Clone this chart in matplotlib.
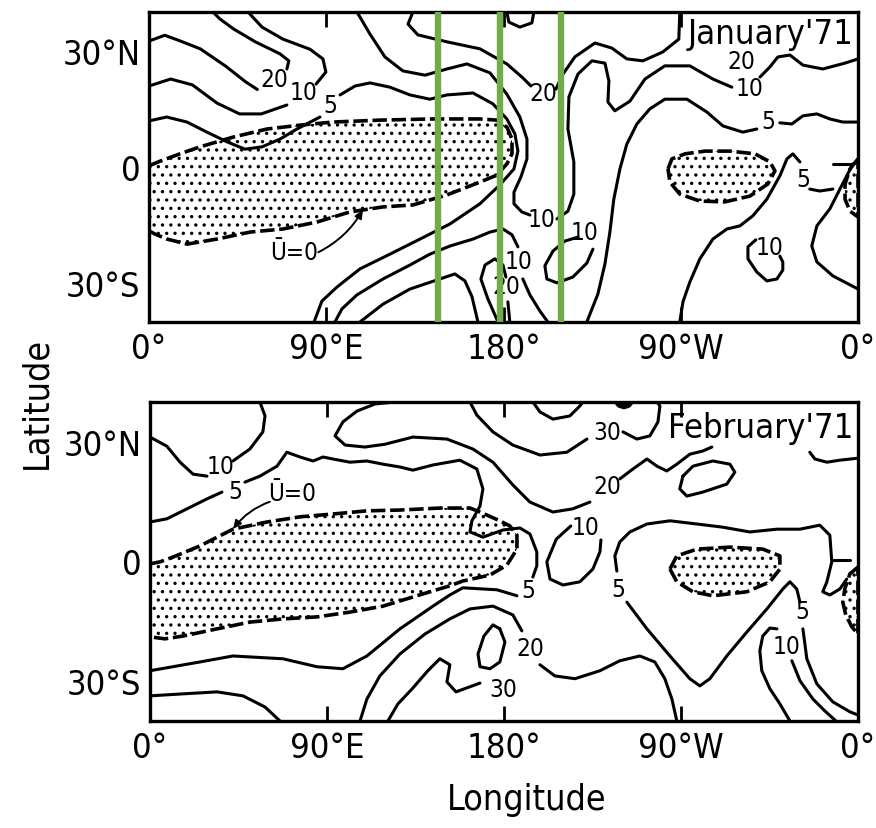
import matplotlib
matplotlib.use('Agg')
import matplotlib.pyplot as plt
from matplotlib import font_manager

_fonts = font_manager.fontManager.ttflist
_names = {f.name for f in _fonts}
_has_dv_cond = any(f.name == 'DejaVu Sans' and str(f.stretch) == 'condensed' for f in _fonts)
if 'Liberation Sans Narrow' in _names:
    FAMILY, STRETCH, SCALE = ['Liberation Sans Narrow', 'DejaVu Sans'], 'normal', 1.0
elif _has_dv_cond:
    FAMILY, STRETCH, SCALE = ['DejaVu Sans', 'Liberation Sans'], 'condensed', 0.92
else:
    FAMILY, STRETCH, SCALE = ['Liberation Sans', 'DejaVu Sans'], 'normal', 0.9
plt.rcParams['font.family'] = FAMILY
plt.rcParams['font.stretch'] = STRETCH
plt.rcParams['hatch.linewidth'] = 1.2
plt.rcParams['hatch.color'] = 'black'

# ---------------- axis ticks ----------------
lon_ticks = [0, 90, 180, 270, 360]
lon_tick_labels = ['0°', '90°E', '180°', '90°W', '0°']
lat_ticks = [30, 0, -30]
lat_tick_labels = ['30°N', '0', '30°S']
highlight_lons = [146.7, 178.2, 209.1]

# ---------------- January '71 ----------------
jan_shade_w_lon = [0, 5.6, 15.7, 25.9, 42.6, 59.9, 76.6, 93.4, 117.3, 144.2, 168.0, 176.6, 181.7, 184.3, 184.3, 181.7,
                   176.6, 168.0, 151.3, 134.0, 118.8, 102.0, 85.3, 68.0, 51.3, 34.5, 19.3, 9.1, 3.0, 0]
jan_shade_w_lat = [0.3, 1.5, 3.4, 5.2, 7.7, 9.8, 10.8, 11.6, 12.1, 12.4, 12.4, 12.1, 10.3, 7.2, 3.4, 0.8,
                   -2.1, -3.9, -7.2, -9.8, -10.3, -11.6, -14.2, -16.0, -16.8, -18.6, -19.9, -18.6, -17.3, -16.5]
jan_shade_e_lon = [263.5, 265.5, 272.2, 282.3, 295.0, 307.7, 315.3, 317.8, 314.2, 305.1, 292.4, 279.7, 269.5, 264.5]
jan_shade_e_lat = [-0.5, 2.1, 3.4, 4.1, 4.1, 3.4, 1.3, -1.0, -4.4, -7.5, -9.0, -8.8, -7.0, -3.9]
jan_shade_edge_lon = [360, 355.9, 353.4, 353.4, 355.9, 360]
jan_shade_edge_lat = [2.1, -0.5, -4.4, -8.3, -11.4, -12.9]

j20_nw_a = ([0, 8, 16, 26, 39, 49, 55], [32.5, 34, 32.5, 30.5, 26, 22, 20])
j20_nw_b = ([70, 71, 66.5, 54, 43, 36, 32.5], [25.3, 27.4, 29.2, 32.3, 35.6, 38.2, 40])
j10_nw_a = ([0, 11, 22, 34.5, 46, 57, 70], [20.9, 22.7, 21.2, 16.5, 13.7, 13.7, 16.0])
j10_nw_b = ([84.8, 89.8, 88.3, 81.7, 68.0, 57.4, 50.3], [21.4, 24.5, 27.9, 30.4, 33.0, 36.1, 40])
j5_w_a = ([0, 9, 19.3, 29.4, 39.6, 48.7, 57.4, 66.5, 75.1, 86.8],
          [11.9, 12.9, 11.6, 9.0, 6.5, 4.6, 5.2, 7.2, 9.8, 12.9])
j5_w_b = ([97.0, 104.6, 112.2, 122.3, 132.5, 142.6, 151.3, 164.5, 174.6, 181.7, 185.8, 187.3, 185.3, 178.2,
           168.0, 152.8, 137.6, 122.3, 107.1, 95.4, 87.8, 83.8],
          [18.6, 20.9, 21.7, 20.6, 18.6, 17.5, 18.6, 19.1, 16.3, 12.4, 8.5, 4.1, -0.5, -4.6,
           -9.5, -14.7, -18.6, -22.5, -26.3, -31.0, -34.6, -40])
j10_c_a = ([105.6, 112.2, 119.8, 128.9, 140.1, 151.3, 161.4, 173.1, 181.7, 188.3, 191.9, 191.9, 188.8, 185.3,
            185.3, 189.3, 193.4],
           [40, 34.3, 28.4, 24.8, 23.7, 25.3, 26.6, 24.3, 18.8, 12.9, 7.2, 2.1, -2.6, -6.5,
            -9.5, -11.6, -12.4])
j10_c_b = ([207.1, 212.7, 215.7, 215.7, 212.7, 213.2, 217.8, 224.9, 231.5, 233.5, 233.0, 236.5, 244.2, 251.8,
            261.9, 274.6, 286.3, 295.9],
           [-13.4, -11.4, -7.0, 1.3, 9.8, 18.1, 24.0, 27.4, 26.8, 22.2, 16.8, 14.5, 17.0, 22.7,
            26.1, 26.1, 22.7, 20.6])
j10_c_c = ([310.2, 315.2, 319.3, 325.4, 332.0, 342.1, 353.3, 360],
           [23.2, 25.8, 28.4, 28.9, 26.3, 25.3, 26.8, 27.9])
j20_c_a = ([134.0, 131.5, 136.5, 151.3, 168.0, 181.7, 189.8, 193.9],
           [40, 36.9, 34.1, 32.3, 30.5, 26.6, 23.0, 20.9])
j20_c_b = ([206.6, 210.2, 216.2, 226.4, 235.0, 242.6, 250.8, 260.9, 269.0, 269.5],
           [20.1, 24.0, 28.4, 32.0, 30.7, 27.9, 27.4, 29.7, 33.0, 40])
j_top_loop = ([181.7, 182.7, 188.3, 194.4, 195.4], [40, 37.4, 36.1, 37.2, 40])
j5_e_a = ([222.3, 227.9, 231.5, 234.0, 236.0, 239.1, 242.6, 247.7, 254.3, 261.9, 273.1, 283.2, 291.4, 301.5, 308.6],
          [-40, -32.8, -25.0, -16.8, -8.3, -0.5, 5.9, 11.1, 15.0, 17.5, 17.5, 14.2, 10.6, 9.0, 9.8])
j5_e_b = ([320.3, 326.4, 332.0, 339.1, 345.7, 352.3, 360], [11.4, 11.1, 13.2, 13.7, 12.4, 11.6, 11.6])
j5_s_a = ([269.5, 271.1, 274.6, 279.7, 286.3, 293.4, 300.0, 306.6, 313.7, 320.3, 323.9, 326.9, 330.5],
          [-40, -34.8, -29.7, -23.7, -18.6, -16.0, -15.2, -12.6, -8.3, -2.3, 2.1, 3.4, 1.3])
j5_s_b = ([335.5, 340.6, 347.2], [-5.7, -6.2, -5.7])
j_y_line = ([357.4, 350.8, 345.7, 339.1, 336.5, 339.1, 347.2, 360],
            [0.8, -5.7, -10.8, -15.2, -20.4, -24.5, -28.1, -31.5])
j_tmark = ([347.2, 357.4], [0.8, 0.8])
j10_loop_se = ([320.3, 321.8, 321.8, 318.8, 313.7, 308.6, 304.1, 304.1, 308.1],
               [-23.0, -24.5, -26.6, -28.9, -29.4, -27.1, -23.7, -20.6, -18.8])
j10_b_a = ([94.4, 98.0, 105.6, 118.8, 132.5, 142.6, 152.8, 164.5, 173.1, 179.7, 184.3, 187.3],
           [-40, -36.6, -33.0, -28.9, -25.3, -22.5, -20.4, -18.6, -16.8, -16.0, -17.5, -20.6])
j10_b_b = ([189.8, 193.4, 198.5, 202.5], [-28.9, -33.0, -37.2, -40])
j_c_line = ([107.1, 118.8, 132.5, 147.7, 155.3, 160.4, 164.0, 167.0],
            [-40, -35.4, -31.5, -28.9, -27.6, -29.4, -33.5, -40])
j20_loop_a = ([177.2, 172.1, 168.5, 170.6, 175.6, 179.7, 181.2], [-40, -34.1, -28.9, -25.3, -23.7, -25.3, -28.4])
j20_loop_b = ([182.2, 183.2], [-34.8, -40])
j10_loop_c = ([217.8, 211.2, 205.1, 201.0, 202.0, 207.1, 215.2, 222.3, 225.4],
              [-18.1, -19.1, -21.7, -25.5, -28.9, -29.9, -28.4, -24.8, -21.2])
jan_labels = [("20", 63.5, 22.7), ("10", 78.2, 19.4), ("5", 91.9, 16.0), ("20", 200.0, 19.1),
              ("10", 199.5, -13.4), ("20", 300.5, 27.4), ("10", 305.1, 20.4), ("5", 314.2, 11.9),
              ("5", 332.0, -3.1), ("10", 315.2, -20.6), ("10", 221.3, -16.8), ("10", 187.8, -24.3),
              ("20", 181.2, -30.7)]
jan_u0_text = (73.6, -21.9)
jan_u0_arrow = ((86.0, -22.0), (108.6, -11.0))

# ---------------- February '71 ----------------
feb_shade_w_lon = [0, 5.1, 11.7, 25.4, 42.2, 59.5, 76.3, 93.0, 110.3, 127.1, 147.4, 162.7, 167.8, 177.9, 183.0, 186.6,
                   186.6, 181.5, 172.9, 159.1, 152.5, 135.7, 118.5, 101.7, 84.9, 67.6, 50.8, 34.1, 16.8, 7.6, 0]
feb_shade_w_lat = [-0.6, -0.1, 1.1, 3.9, 8.1, 9.9, 11.2, 11.9, 12.7, 12.9, 13.4, 13.4, 12.4, 10.2, 8.9, 6.6,
                   3.1, -0.9, -3.4, -4.9, -6.1, -8.6, -11.2, -12.7, -13.9, -14.4, -15.2, -16.9, -18.7, -19.4, -18.9]
feb_shade_e_lon = [264.4, 267.9, 278.1, 294.9, 311.6, 320.3, 320.3, 315.2, 303.5, 286.2, 276.1, 267.9]
feb_shade_e_lat = [-1.9, 1.4, 3.1, 3.6, 3.1, 1.4, -1.9, -5.1, -7.6, -8.6, -7.6, -5.1]
feb_shade_edge_lon = [360, 355.9, 353.3, 352.3, 353.8, 356.9, 360]
feb_shade_edge_lat = [-1.4, -3.1, -6.9, -10.2, -13.4, -16.4, -18.2]
feb_blob_lon = [236, 238, 241, 244, 246]
feb_blob_lat = [40, 38.8, 38.3, 38.8, 40]

f10_nw_a = ([0, 8.6, 15.3, 21.9, 29.0], [31.2, 28.9, 24.9, 21.9, 21.4])
f10_nw_b = ([42.2, 50.8, 57.4, 58.5, 55.9], [25.2, 28.2, 32.5, 36.5, 40])
f5_n_a = ([0, 8.6, 18.8, 29.0, 36.6], [9.9, 10.7, 13.2, 15.7, 17.4])
f5_n_b = ([48.3, 55.9, 64.6, 69.6, 76.3, 82.9, 88.0, 93.0, 101.7, 110.3, 118.5, 127.1, 133.7, 143.9, 157.6, 166.2,
           169.3, 167.8, 163.7, 162.7, 169.3, 179.5, 188.1, 193.2, 196.7, 196.7, 194.7],
          [19.9, 21.4, 23.9, 27.4, 26.2, 25.2, 26.2, 25.7, 24.9, 25.2, 24.4, 23.7, 22.9, 24.2, 25.4, 23.2,
           18.2, 13.9, 10.2, 7.4, 6.1, 7.9, 8.4, 6.9, 2.4, -1.1, -3.9])
f5_s = ([186.6, 176.4, 159.1, 152.5, 143.9, 127.1, 110.3, 98.1, 84.9, 67.6, 42.2, 25.4, 0],
        [-8.6, -7.1, -6.6, -8.4, -11.2, -16.9, -23.7, -26.9, -26.4, -24.4, -23.7, -25.2, -27.4])
f20_s_a = ([106.8, 110.3, 116.9, 127.1, 139.8, 152.5, 162.7, 174.4, 184.5, 189.1],
           [-40, -34.5, -28.7, -23.2, -18.2, -14.4, -11.9, -11.2, -13.4, -17.4])
f20_s_b = ([198.3, 205.9, 216.1, 228.8, 238.9, 249.1, 256.7, 261.8, 265.4, 267.9],
           [-25.9, -28.7, -29.4, -27.4, -24.9, -23.7, -25.2, -29.4, -34.5, -40])
f30_s = ([121.0, 126.1, 133.2, 141.3, 147.4, 152.5, 151.0, 155.6, 167.8],
         [-40, -35.7, -32.0, -27.4, -24.4, -25.9, -30.2, -32.7, -30.5])
f_loop_s = ([177.9, 174.4, 169.8, 166.8, 167.8, 172.9, 177.9, 180.5, 177.9],
            [-16.9, -15.9, -18.7, -23.2, -26.4, -26.9, -25.2, -20.2, -16.9])
f30_w = ([0, 16.8, 34.1, 47.3, 58.5, 66.1], [-33.7, -33.2, -32.7, -33.7, -36.5, -40])
f20_n_a = ([124.6, 114.4, 105.2, 98.1, 94.1, 99.2, 109.3, 119.5, 133.7, 151.0, 164.2, 174.4, 184.5, 193.2, 204.9,
            215.0, 223.7],
           [40, 39.5, 37.7, 35.0, 31.5, 29.2, 28.7, 29.4, 31.2, 30.7, 28.2, 24.9, 19.2, 14.9, 12.4, 13.2, 14.9])
f20_n_b = ([238.9, 245.6, 252.7, 257.8, 262.8, 267.9, 274.5, 281.1, 285.7],
           [20.7, 23.2, 25.7, 23.9, 22.7, 24.4, 26.9, 27.7, 28.7])
f30_n_a = ([162.7, 166.2, 174.4, 184.5, 198.3, 212.0, 222.2], [40, 36.7, 32.5, 29.2, 26.7, 27.4, 30.7])
f30_n_b = ([240.5, 247.6, 254.2, 258.3, 259.3, 257.8], [32.5, 30.7, 31.5, 35.0, 39.0, 40])
f_top_u = ([194.7, 198.3, 204.9, 213.5, 218.6, 220.1], [40, 37.5, 35.7, 36.5, 39.0, 40])
f_oval_n = ([271.0, 276.1, 286.2, 294.9, 297.4, 293.3, 281.1, 273.0, 269.4, 271.0],
            [21.4, 23.9, 25.2, 24.4, 22.4, 19.4, 17.4, 16.4, 18.2, 21.4])
f_loop_mid = ([214.0, 206.6, 201.8, 203.4, 210.0, 218.6, 225.2, 228.8, 229.3],
              [8.9, 5.6, -0.1, -4.4, -5.9, -5.1, -1.9, 2.4, 5.4])
f5_e_a = ([237.4, 236.4, 238.9, 244.0, 252.7, 264.4, 278.1, 291.3, 305.0, 318.8, 330.5, 340.6, 345.7, 346.7,
           344.2, 342.1, 345.7, 350.8, 354.3],
          [-2.4, 1.4, 4.9, 7.4, 9.4, 10.2, 9.4, 8.6, 7.4, 8.1, 8.1, 9.1, 6.6, -0.1,
           -5.1, -7.6, -8.4, -6.9, -4.4])
f_tmark = ([347.2, 355.9], [0.4, 0.4])
f5_v_a = ([242.5, 252.7, 264.4, 274.5, 279.6, 284.7, 293.3, 303.5, 313.7, 321.8, 325.4, 328.9, 330.5],
          [-10.2, -16.9, -23.7, -29.4, -31.2, -29.4, -23.7, -17.7, -11.9, -6.9, -5.1, -6.9, -10.2])
f5_v_b = ([332.0, 334.0, 339.1, 347.2, 355.9, 360], [-16.9, -24.4, -30.7, -35.2, -37.7, -38.5])
f10_se_a = ([325.4, 320.3, 315.2, 311.1, 310.1, 311.6, 315.2, 318.8],
            [-40, -35.7, -31.9, -27.4, -22.4, -18.7, -16.7, -16.9])
f10_se_b = ([326.4, 330.5, 337.1, 343.2, 348.8], [-24.9, -29.9, -34.5, -37.5, -40])
f20_ne = ([335.5, 338.1, 344.2, 350.8, 359.9], [27.4, 25.7, 24.9, 25.4, 25.9])
feb_labels = [("10", 36.1, 23.9), ("5", 43.2, 17.7), ("30", 232.3, 32.5), ("20", 232.3, 18.9),
              ("10", 221.7, 8.6), ("5", 192.2, -7.1), ("20", 193.2, -21.6), ("30", 179.5, -32.0),
              ("5", 237.9, -6.9), ("5", 331.5, -12.4), ("10", 323.8, -21.2)]
feb_u0_text = (72.2, 17.2)
feb_u0_arrow = ((61.0, 15.0), (42.2, 8.1))

jan_lines = [j20_nw_a, j20_nw_b, j10_nw_a, j10_nw_b, j5_w_a, j5_w_b, j10_c_a, j10_c_b, j10_c_c, j20_c_a,
             j20_c_b, j_top_loop, j5_e_a, j5_e_b, j5_s_a, j5_s_b, j_y_line, j_tmark, j10_loop_se, j10_b_a,
             j10_b_b, j_c_line, j20_loop_a, j20_loop_b, j10_loop_c]
feb_lines = [f10_nw_a, f10_nw_b, f5_n_a, f5_n_b, f5_s, f20_s_a, f20_s_b, f30_s, f_loop_s, f30_w, f20_n_a,
             f20_n_b, f30_n_a, f30_n_b, f_top_u, f_oval_n, f_loop_mid, f5_e_a, f_tmark, f5_v_a, f5_v_b,
             f10_se_a, f10_se_b, f20_ne]
jan_shades = [(jan_shade_w_lon, jan_shade_w_lat), (jan_shade_e_lon, jan_shade_e_lat),
              (jan_shade_edge_lon, jan_shade_edge_lat)]
feb_shades = [(feb_shade_w_lon, feb_shade_w_lat), (feb_shade_e_lon, feb_shade_e_lat),
              (feb_shade_edge_lon, feb_shade_edge_lat)]

LW = 2.2
FS_TICK = 27 * SCALE
FS_LAB = 19 * SCALE
FS_TITLE = 27 * SCALE
FS_AXIS = 28 * SCALE


def draw_panel(ax, shades, lines, labels, title, title_y, u0_text, u0_arrow):
    for lon, lat in shades:
        ax.fill(lon, lat, facecolor='white', edgecolor='black', hatch='..', linewidth=0, zorder=1)
        ax.plot(list(lon) + [lon[0]], list(lat) + [lat[0]], color='black', lw=LW + 0.4,
                linestyle=(0, (4, 1.3)), zorder=2)
    for lon, lat in lines:
        ax.plot(lon, lat, color='black', lw=LW, solid_capstyle='round', solid_joinstyle='round', zorder=3)
    for s, x, y in labels:
        ax.text(x, y, s, ha='center', va='center', fontsize=FS_LAB, zorder=4)
    ax.text(u0_text[0], u0_text[1], 'Ū=0', ha='center', va='center', fontsize=FS_LAB, zorder=4)
    ax.annotate('', xy=u0_arrow[1], xytext=u0_arrow[0],
                arrowprops=dict(arrowstyle='-|>,head_length=0.5,head_width=0.22', lw=1.4, color='black',
                                shrinkA=0, shrinkB=0, connectionstyle='arc3,rad=0.15'), zorder=4)
    ax.text(0.993, title_y, title, transform=ax.transAxes, ha='right', va='top', fontsize=FS_TITLE, zorder=5)
    ax.set_xlim(0, 360)
    ax.set_ylim(-40, 40)
    ax.set_xticks(lon_ticks)
    ax.set_xticklabels(lon_tick_labels, fontsize=FS_TICK)
    ax.set_yticks(lat_ticks)
    ax.set_yticklabels(lat_tick_labels, fontsize=FS_TICK)
    ax.tick_params(axis='x', direction='in', length=11, width=2, top=True, bottom=True, pad=7)
    ax.tick_params(axis='y', length=0, pad=6)
    for sp in ax.spines.values():
        sp.set_linewidth(2.4)


fig = plt.figure(figsize=(8.76, 8.29), dpi=100)
ax1 = fig.add_axes([0.1701, 0.6104, 0.8094, 0.3739])
ax2 = fig.add_axes([0.1712, 0.1291, 0.8082, 0.3848])

draw_panel(ax1, jan_shades, jan_lines, jan_labels, "January'71", 0.985, jan_u0_text, jan_u0_arrow)
draw_panel(ax2, feb_shades, feb_lines, feb_labels, "February'71", 0.972, feb_u0_text, feb_u0_arrow)

ax2.fill(feb_blob_lon, feb_blob_lat, color='black', zorder=3)

for x in highlight_lons:
    ax1.axvline(x, color='#70AD47', lw=4.6, zorder=6)

fig.text(0.042, 0.514, 'Latitude', rotation=90, ha='center', va='center', fontsize=FS_AXIS)
fig.text(0.601, 0.035, 'Longitude', ha='center', va='center', fontsize=FS_AXIS)

fig.savefig('out.png', dpi=100)
